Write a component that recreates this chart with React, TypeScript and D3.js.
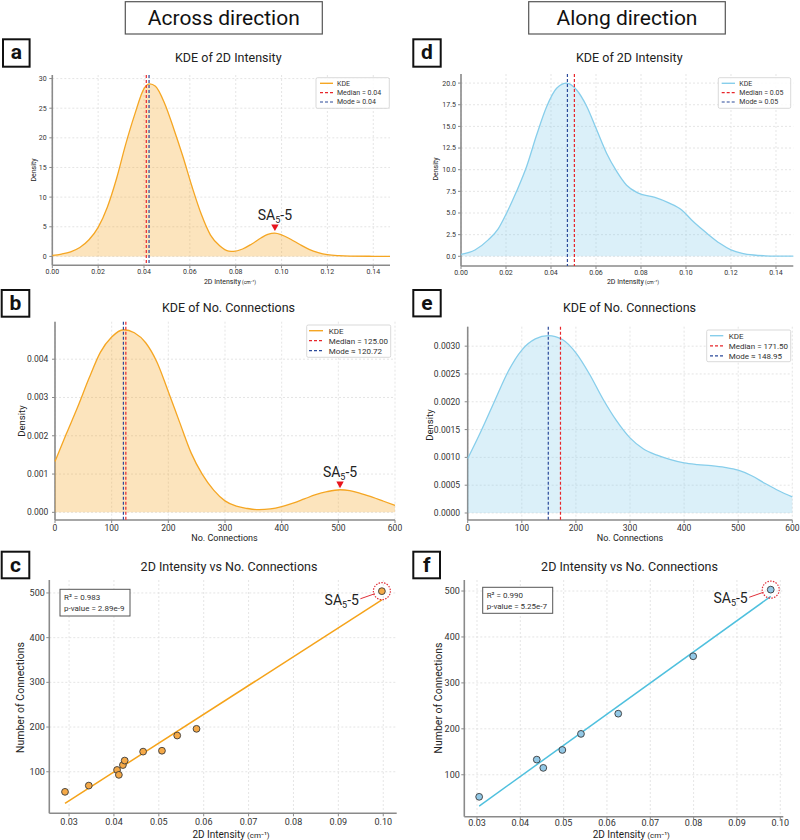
import React from "react";
import * as d3 from "d3";

const FONT = "Roboto, 'DejaVu Sans', sans-serif";

const headers = ["Across direction", "Along direction"];
const letters = ["a", "b", "c", "d", "e", "f"];

// KDE of 2D intensity, across (x, density)
const acrossIntX = [0, 0.004, 0.008, 0.012, 0.016, 0.02, 0.024, 0.028, 0.032, 0.036, 0.04, 0.0425, 0.045, 0.049, 0.053, 0.057, 0.061, 0.065, 0.069, 0.073, 0.077, 0.079, 0.083, 0.087, 0.091, 0.094, 0.097, 0.1, 0.104, 0.108, 0.112, 0.116, 0.12, 0.125, 0.13, 0.14, 0.1473];
const acrossIntY = [0.17, 0.4, 0.78, 1.5, 2.8, 4.9, 8.3, 13.1, 18.9, 24.0, 28.3, 29.1, 28.7, 25.8, 21.5, 16.8, 11.7, 7.1, 3.6, 1.8, 0.9, 0.85, 1.25, 2.1, 3.1, 3.7, 3.93, 3.65, 2.9, 2.0, 1.2, 0.65, 0.3, 0.12, 0.05, 0.02, 0.01];

// KDE of 2D intensity, along
const alongIntX = [0, 0.0062, 0.0121, 0.0166, 0.0203, 0.0247, 0.0292, 0.0336, 0.0381, 0.0425, 0.047, 0.0514, 0.0559, 0.0603, 0.0647, 0.0692, 0.0736, 0.0788, 0.0862, 0.0921, 0.0981, 0.1025, 0.1077, 0.11, 0.115, 0.12, 0.125, 0.13, 0.135, 0.14, 0.1477];
const alongIntY = [0.23, 0.73, 1.9, 3.2, 5.0, 7.5, 10.4, 14.0, 17.3, 19.4, 20.0, 19.2, 17.3, 14.6, 11.9, 9.8, 8.2, 7.3, 6.8, 6.2, 5.35, 4.2, 3.0, 2.5, 1.5, 0.75, 0.35, 0.15, 0.06, 0.02, 0.01];

// KDE of no. connections, across
const acrossConX = [0, 20, 40, 60, 80, 100, 121, 140, 160, 180, 200, 220, 240, 260, 280, 300, 320, 340, 360, 380, 400, 420, 440, 460, 480, 503, 520, 540, 560, 580, 600];
const acrossConY = [0.00133, 0.00205, 0.00275, 0.0035, 0.00418, 0.00458, 0.00477, 0.00469, 0.00443, 0.00392, 0.00315, 0.00235, 0.00156, 0.00099, 0.00058, 0.0003, 0.00016, 0.0001, 0.00007, 0.00009, 0.00015, 0.00024, 0.00035, 0.00046, 0.00054, 0.00059, 0.00057, 0.00049, 0.0004, 0.00029, 0.00018];

// KDE of no. connections, along
const alongConX = [0, 25, 50, 75, 100, 125, 149, 175, 200, 225, 250, 275, 300, 325, 350, 375, 400, 425, 450, 475, 500, 525, 550, 575, 600];
const alongConY = [0.00098, 0.00148, 0.00202, 0.00255, 0.00293, 0.00313, 0.00319, 0.00312, 0.00288, 0.0025, 0.00205, 0.00166, 0.00135, 0.00115, 0.00104, 0.00096, 0.0009, 0.00087, 0.00085, 0.00082, 0.00077, 0.00067, 0.00053, 0.0004, 0.00029];

// scatter points: 2D intensity vs connections
const acrossPtX = [0.0291, 0.0344, 0.0407, 0.0411, 0.042, 0.0424, 0.0465, 0.0507, 0.0541, 0.0584, 0.0997];
const acrossPtY = [55, 69, 104, 93, 115, 125, 145, 147, 181, 196, 504];
const alongPtX = [0.0305, 0.0438, 0.0453, 0.0497, 0.054, 0.0626, 0.0799, 0.0978];
const alongPtY = [52, 133, 115, 154, 189, 233, 358, 503];

const acrossFit = { slope: 6446, intercept: -158.3 };
const alongFit = { slope: 6782, intercept: -175 };
const acrossStats = ["R² = 0.983", "p-value = 2.89e-9"];
const alongStats = ["R² = 0.990", "p-value = 5.25e-7"];

const intTicks = [0, 0.02, 0.04, 0.06, 0.08, 0.1, 0.12, 0.14];
const conTicks = [0, 100, 200, 300, 400, 500, 600];
const scatterXTicks = [0.03, 0.04, 0.05, 0.06, 0.07, 0.08, 0.09, 0.1];
const scatterYTicks = [100, 200, 300, 400, 500];
const acrossIntYTicks = [0, 5, 10, 15, 20, 25, 30];
const alongIntYTicks = [0, 2.5, 5, 7.5, 10, 12.5, 15, 17.5, 20];
const acrossConYTicks = [0, 0.001, 0.002, 0.003, 0.004];
const alongConYTicks = [0, 0.0005, 0.001, 0.0015, 0.002, 0.0025, 0.003];

const medians = { acrossInt: 0.041, alongInt: 0.0504, acrossCon: 125, alongCon: 171.5 };
const modes = { acrossInt: 0.0422, alongInt: 0.0473, acrossCon: 120.72, alongCon: 148.95 };
const legendTexts = {
  acrossInt: ["KDE", "Median = 0.04", "Mode ≈ 0.04"],
  alongInt: ["KDE", "Median = 0.05", "Mode ≈ 0.05"],
  acrossCon: ["KDE", "Median = 125.00", "Mode ≈ 120.72"],
  alongCon: ["KDE", "Median = 171.50", "Mode ≈ 148.95"],
};
const outlierLabel = "SA";

const ORANGE = "#f5a623";
const SKY = "#87ceeb";
const RED = "#e8262b";
const NAVY = "#2b4a9a";
const SPINE = "#8a8a8a";
const GRID = "#dedede";

function SaLabel({ x, y, anchor }) {
  return (
    <text x={x} y={y} textAnchor={anchor} fontSize={14} fill="#222">
      {outlierLabel}
      <tspan fontSize={9} dy={3}>5</tspan>
      <tspan dy={-3}>-5</tspan>
    </text>
  );
}

function Frame({ box, x, y, xTicks, yTicks, xFmt, yFmt, fs, xOff, yOff }) {
  return (
    <g>
      {xTicks.map((t) => (
        <line key={"gx" + t} x1={x(t)} x2={x(t)} y1={box.t} y2={box.b} stroke={GRID} strokeWidth={0.8} strokeDasharray="2,2" />
      ))}
      {yTicks.map((t) => (
        <line key={"gy" + t} x1={box.l} x2={box.r} y1={y(t)} y2={y(t)} stroke={GRID} strokeWidth={0.8} strokeDasharray="2,2" />
      ))}
      <line x1={box.l} x2={box.l} y1={box.t} y2={box.b} stroke={SPINE} strokeWidth={1.6} />
      <line x1={box.l} x2={box.r} y1={box.b} y2={box.b} stroke={SPINE} strokeWidth={1.6} />
      {xTicks.map((t) => (
        <g key={"tx" + t}>
          <line x1={x(t)} x2={x(t)} y1={box.b} y2={box.b + 3} stroke={SPINE} strokeWidth={1} />
          <text x={x(t)} y={box.b + xOff} textAnchor="middle" fontSize={fs} fill="#333">{d3.format(xFmt)(t)}</text>
        </g>
      ))}
      {yTicks.map((t) => (
        <g key={"ty" + t}>
          <line x1={box.l - 3} x2={box.l} y1={y(t)} y2={y(t)} stroke={SPINE} strokeWidth={1} />
          <text x={box.l - yOff} y={y(t)} dy="0.35em" textAnchor="end" fontSize={fs} fill="#333">{d3.format(yFmt)(t)}</text>
        </g>
      ))}
    </g>
  );
}

function AxisTexts({ title, xLabel, yLabel }) {
  return (
    <g fill="#222">
      <text x={title.x} y={title.y} textAnchor="middle" fontSize={title.fs}>{title.text}</text>
      <text transform={`translate(${yLabel.x},${yLabel.y}) rotate(-90)`} dy="0.35em" textAnchor="middle" fontSize={yLabel.fs}>{yLabel.text}</text>
      <text x={xLabel.x} y={xLabel.y} textAnchor="middle" fontSize={xLabel.fs}>
        {xLabel.text}
        {xLabel.unit && <tspan fontSize={xLabel.unitFs}> {xLabel.unit}</tspan>}
      </text>
    </g>
  );
}

function KdePanel(p) {
  const x = d3.scaleLinear().domain(p.xDomain).range([p.box.l, p.box.r]);
  const y = d3.scaleLinear().domain(p.yDomain).range([p.box.b, p.box.t]);
  const pts = p.xs.map((v, i) => [v, p.ys[i]]);
  const line = d3.line().x((d) => x(d[0])).y((d) => y(d[1])).curve(d3.curveMonotoneX);
  const area = d3.area().x((d) => x(d[0])).y0(y(0)).y1((d) => y(d[1])).curve(d3.curveMonotoneX);
  const lg = p.legend;
  const legendStyles = [
    { c: p.color, dash: null, w: 1.4 },
    { c: RED, dash: "3,2", w: 1.2 },
    { c: NAVY, dash: "3,2", w: 1.2 },
  ];
  let marker = null;
  if (p.marker) {
    const mx = x(p.marker.x);
    const tip = y(p.marker.y) - p.marker.gap;
    marker = (
      <g>
        <path d={`M${mx - 3.7},${tip - 6.7}L${mx + 3.7},${tip - 6.7}L${mx},${tip}Z`} fill="#e8141c" />
        <SaLabel x={mx} y={tip - 11} anchor="middle" />
      </g>
    );
  }
  return (
    <g>
      <Frame box={p.box} x={x} y={y} xTicks={p.xTicks} yTicks={p.yTicks} xFmt={p.xFmt} yFmt={p.yFmt} fs={p.fs} xOff={p.xOff} yOff={p.yOff} />
      <path d={area(pts)} fill={p.color} fillOpacity={0.3} />
      <path d={line(pts)} fill="none" stroke={p.color} strokeWidth={1.3} />
      <line x1={x(p.median)} x2={x(p.median)} y1={p.box.t} y2={p.box.b} stroke={RED} strokeWidth={1.2} strokeDasharray="3,2" />
      <line x1={x(p.mode)} x2={x(p.mode)} y1={p.box.t} y2={p.box.b} stroke={NAVY} strokeWidth={1.2} strokeDasharray="3,2" />
      {marker}
      <rect x={lg.x} y={lg.y} width={lg.w} height={lg.h} fill="#fff" fillOpacity={0.85} stroke="#cfcfcf" strokeWidth={0.8} rx={1.5} />
      {p.legendTexts.map((t, i) => {
        const ry = lg.y + lg.first + i * lg.step;
        const s = legendStyles[i];
        return (
          <g key={t}>
            <line x1={lg.x + lg.l0} x2={lg.x + lg.l1} y1={ry} y2={ry} stroke={s.c} strokeWidth={s.w} strokeDasharray={s.dash || undefined} />
            <text x={lg.x + lg.tx} y={ry} dy="0.35em" fontSize={lg.fs} fill="#333">{t}</text>
          </g>
        );
      })}
      <AxisTexts title={p.title} xLabel={p.xLabel} yLabel={p.yLabel} />
    </g>
  );
}

function ScatterPanel(p) {
  const x = d3.scaleLinear().domain(p.xDomain).range([p.box.l, p.box.r]);
  const y = d3.scaleLinear().domain(p.yDomain).range([p.box.b, p.box.t]);
  const xMin = d3.min(p.xs);
  const xMax = d3.max(p.xs);
  const fitY = (v) => p.fit.intercept + p.fit.slope * v;
  const iOut = d3.maxIndex(p.ys);
  const ox = x(p.xs[iOut]);
  const oy = y(p.ys[iOut]);
  return (
    <g>
      <Frame box={p.box} x={x} y={y} xTicks={p.xTicks} yTicks={p.yTicks} xFmt=".2f" yFmt="d" fs={p.fs} xOff={p.xOff} yOff={p.yOff} />
      <line x1={x(xMin)} y1={y(fitY(xMin))} x2={x(xMax)} y2={y(fitY(xMax))} stroke={p.lineColor} strokeWidth={1.5} />
      {p.xs.map((v, i) => (
        <circle key={i} cx={x(v)} cy={y(p.ys[i])} r={3.4} fill={p.ptColor} stroke="#3a3a3a" strokeWidth={0.9} />
      ))}
      <circle cx={ox} cy={oy} r={8.5} fill="none" stroke="#e0303a" strokeWidth={1.2} strokeDasharray="1.5,1.3" />
      <line x1={ox - 21.5} y1={oy + 7.6} x2={ox - 7.2} y2={oy + 2.6} stroke="#e0303a" strokeWidth={1} />
      <SaLabel x={ox - 23} y={oy + 13.6} anchor="end" />
      <rect x={p.stats.x} y={p.stats.y} width={p.stats.w} height={p.stats.h} fill="#fff" stroke="#555" strokeWidth={1} />
      {p.statTexts.map((t, i) => (
        <text key={t} x={p.stats.x + 4} y={p.stats.y + 11 + i * 11} fontSize={8} fill="#333">{t}</text>
      ))}
      <AxisTexts title={p.title} xLabel={p.xLabel} yLabel={p.yLabel} />
    </g>
  );
}

const letterBoxes = [
  [3, 39.3, 26.6, 27.4],
  [1.7, 290, 27.6, 26.7],
  [1.7, 551.7, 27.6, 26.6],
  [413.3, 39.3, 27.4, 27.4],
  [413.3, 290, 27.4, 26.4],
  [413.3, 551.7, 26.7, 26.6],
];
const headerBoxes = [
  [125.3, 1.7, 197, 32.3],
  [528.7, 1.7, 196.6, 32.3],
];

export default function App() {
  const intLabel = (x, y) => ({ text: "2D Intensity", unit: "(cm⁻¹)", x, y, fs: 7, unitFs: 5 });
  const conLabel = (x, y) => ({ text: "No. Connections", x, y, fs: 9 });
  const sLabel = (x, y) => ({ text: "2D Intensity", unit: "(cm⁻¹)", x, y, fs: 10, unitFs: 8 });
  return (
    <svg width={800} height={840} style={{ position: "absolute", left: 0, top: 0 }} fontFamily={FONT}>
      <rect width={800} height={840} fill="#fff" />
      {headerBoxes.map((b, i) => (
        <g key={headers[i]}>
          <rect x={b[0]} y={b[1]} width={b[2]} height={b[3]} fill="#fff" stroke="#555" strokeWidth={1.2} />
          <text x={b[0] + b[2] / 2} y={b[1] + 23.5} textAnchor="middle" fontSize={21} fill="#111">{headers[i]}</text>
        </g>
      ))}
      {letterBoxes.map((b, i) => (
        <g key={letters[i]}>
          <rect x={b[0]} y={b[1]} width={b[2]} height={b[3]} fill="#fff" stroke="#111" strokeWidth={2} />
          <text x={b[0] + b[2] / 2} y={b[1] + 20} textAnchor="middle" fontSize={21} fontWeight="bold" fill="#111">{letters[i]}</text>
        </g>
      ))}

      <KdePanel
        box={{ l: 52.3, t: 75, r: 390, b: 265.3 }}
        xDomain={[0, 0.1473]} yDomain={[-1.5, 30.6]}
        xs={acrossIntX} ys={acrossIntY} color={ORANGE}
        xTicks={intTicks} yTicks={acrossIntYTicks} xFmt=".2f" yFmt="d" fs={7} xOff={9} yOff={5.6}
        median={medians.acrossInt} mode={modes.acrossInt} legendTexts={legendTexts.acrossInt}
        legend={{ x: 316, y: 77.7, w: 73.3, h: 30.6, first: 5.6, step: 9.35, l0: 4, l1: 17, tx: 21, fs: 7 }}
        marker={{ x: 0.0971, y: 3.93, gap: 2 }}
        title={{ text: "KDE of 2D Intensity", x: 228.3, y: 62.3, fs: 12.5 }}
        yLabel={{ text: "Density", x: 33.3, y: 170, fs: 7 }}
        xLabel={intLabel(230, 283.5)}
      />
      <KdePanel
        box={{ l: 461, t: 74, r: 793.3, b: 266 }}
        xDomain={[0, 0.1477]} yDomain={[-1.12, 21.05]}
        xs={alongIntX} ys={alongIntY} color={SKY}
        xTicks={intTicks} yTicks={alongIntYTicks} xFmt=".2f" yFmt=".1f" fs={7} xOff={9} yOff={5}
        median={medians.alongInt} mode={modes.alongInt} legendTexts={legendTexts.alongInt}
        legend={{ x: 718.3, y: 77.7, w: 72.4, h: 30.6, first: 5.6, step: 9.35, l0: 3.4, l1: 16.7, tx: 21, fs: 7 }}
        title={{ text: "KDE of 2D Intensity", x: 629.3, y: 62.3, fs: 12.5 }}
        yLabel={{ text: "Density", x: 436, y: 169, fs: 7 }}
        xLabel={intLabel(633, 283.5)}
      />
      <KdePanel
        box={{ l: 55, t: 321.7, r: 395, b: 520 }}
        xDomain={[0, 600]} yDomain={[-0.0002, 0.00498]}
        xs={acrossConX} ys={acrossConY} color={ORANGE}
        xTicks={conTicks} yTicks={acrossConYTicks} xFmt="d" yFmt=".3f" fs={8.5} xOff={11} yOff={6.7}
        median={medians.acrossCon} mode={modes.acrossCon} legendTexts={legendTexts.acrossCon}
        legend={{ x: 306.7, y: 325, w: 84, h: 32.3, first: 5.7, step: 10, l0: 2.3, l1: 16.3, tx: 22, fs: 8 }}
        marker={{ x: 503, y: 0.00059, gap: 1.5 }}
        title={{ text: "KDE of No. Connections", x: 228.5, y: 311.7, fs: 12.5 }}
        yLabel={{ text: "Density", x: 21.7, y: 421, fs: 9.5 }}
        xLabel={conLabel(224.5, 540.5)}
      />
      <KdePanel
        box={{ l: 467.7, t: 326.7, r: 792.3, b: 520 }}
        xDomain={[0, 600]} yDomain={[-0.000126, 0.00335]}
        xs={alongConX} ys={alongConY} color={SKY}
        xTicks={conTicks} yTicks={alongConYTicks} xFmt="d" yFmt=".4f" fs={8.5} xOff={11} yOff={7.7}
        median={medians.alongCon} mode={modes.alongCon} legendTexts={legendTexts.alongCon}
        legend={{ x: 706.7, y: 330, w: 84, h: 31.7, first: 5.7, step: 10.1, l0: 3.3, l1: 16.6, tx: 22, fs: 8 }}
        title={{ text: "KDE of No. Connections", x: 629.5, y: 311.7, fs: 12.5 }}
        yLabel={{ text: "Density", x: 429.3, y: 425, fs: 9.5 }}
        xLabel={conLabel(630, 540.5)}
      />
      <ScatterPanel
        box={{ l: 49.3, t: 580, r: 396.7, b: 813.3 }}
        xDomain={[0.0256, 0.103]} yDomain={[7, 529]}
        xs={acrossPtX} ys={acrossPtY} fit={acrossFit}
        lineColor="#f5a31a" ptColor="#f5a947"
        xTicks={scatterXTicks} yTicks={scatterYTicks} fs={9} xOff={11.5} yOff={4.5}
        stats={{ x: 60, y: 589.3, w: 70, h: 26.7 }} statTexts={acrossStats}
        title={{ text: "2D Intensity vs No. Connections", x: 229, y: 570.7, fs: 12.5 }}
        yLabel={{ text: "Number of Connections", x: 20, y: 697.5, fs: 10.5 }}
        xLabel={sLabel(231, 838)}
      />
      <ScatterPanel
        box={{ l: 464.3, t: 580, r: 783.3, b: 816.7 }}
        xDomain={[0.02707, 0.1007]} yDomain={[8.7, 524]}
        xs={alongPtX} ys={alongPtY} fit={alongFit}
        lineColor="#4fc0de" ptColor="#92c8e6"
        xTicks={scatterXTicks} yTicks={scatterYTicks} fs={9} xOff={9} yOff={4.5}
        stats={{ x: 482.7, y: 587.3, w: 70, h: 26 }} statTexts={alongStats}
        title={{ text: "2D Intensity vs No. Connections", x: 629.5, y: 570.7, fs: 12.5 }}
        yLabel={{ text: "Number of Connections", x: 438.3, y: 698, fs: 10.5 }}
        xLabel={sLabel(631.3, 838)}
      />
    </svg>
  );
}
